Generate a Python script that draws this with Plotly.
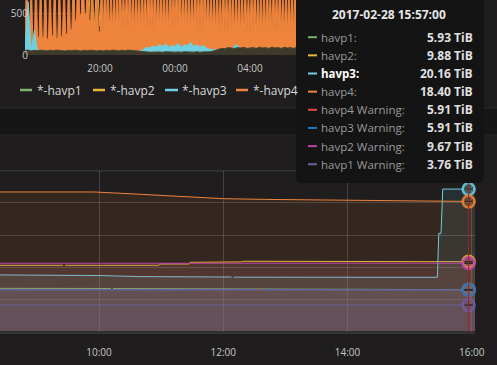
import plotly.graph_objects as go
import pandas as pd

W, H = 497, 365
def fx(x): return x / W
def fy(y): return 1 - y / H

# ---------------- top panel data, 2017-02-27 16:00 -> 2017-02-28 16:00
top_start = '2017-02-27 16:00'
# havp4: 5-minute samples (one row = one hour)
havp4_top = [180,1000,200,220,950,190,210,1050,230,200,980,210,
             220,1020,200,190,960,240,230,1080,200,210,990,220,
             240,1000,260,250,1100,300,320,1050,380,450,1200,480,
             500,1150,520,480,900,430,400,1000,380,350,950,300,
             260,980,250,900,280,1050,240,820,300,960,270,1000,
             280,1040,260,880,290,950,250,1100,270,900,260,980,
             300,960,280,1020,310,860,290,1080,300,940,280,1000,
             290,900,300,1060,280,980,310,840,290,1020,300,920,
             310,1000,290,1100,300,900,320,1040,290,960,300,860,
             290,1060,280,920,300,1000,270,1100,290,880,280,980,
             260,900,250,980,240,820,260,1040,250,900,240,960,
             250,980,240,860,260,1020,230,900,250,960,240,840,
             240,920,250,1040,230,860,260,980,240,900,250,1080,
             250,860,240,980,260,900,230,1020,250,840,240,960,
             240,980,250,900,230,1040,260,860,240,980,250,920,
             250,920,240,1020,260,860,230,980,250,900,240,1040,
             230,980,250,860,240,1020,260,920,230,980,250,860,
             240,1040,230,900,250,980,240,860,260,1020,230,960,
             250,860,240,980,230,920,250,1040,240,860,260,980,
             240,980,260,900,240,1020,230,860,250,980,240,920,
             230,920,250,980,260,860,240,1040,230,920,250,980,
             250,1020,240,860,230,980,250,920,240,1040,230,860,
             240,860,230,980,250,920,240,1020,260,860,240,980,
             230,980,250,920,240,860,230,1040,250,980,240,920]
# havp2 / havp3 / havp1: 10-minute samples
havp2_top = [120,150,130,160,120,140,130,150,120,160,130,140,
             140,160,150,170,140,160,150,170,160,900,180,950,
             350,1000,380,420,300,400,330,380,280,350,260,300,
             200,240,180,220,170,210,160,200,170,190,160,200,
             150,170,140,160,150,170,140,160,150,170,140,160,
             160,180,150,170,160,180,150,170,160,180,150,170,
             170,190,160,180,170,190,160,180,170,190,160,180,
             160,180,170,190,160,180,170,190,160,180,170,190,
             170,190,160,180,170,190,160,180,170,190,160,180,
             160,180,170,190,160,180,170,190,160,180,170,190,
             170,190,160,180,170,190,160,180,170,190,160,180,
             160,180,170,190,160,180,170,190,160,180,170,190]
havp3_top = [60,650,50,300,40,60,40,50,40,50,40,50,
             40,50,40,50,40,50,40,50,40,50,40,50,
             40,50,40,50,40,45,40,50,45,50,40,50,
             40,50,70,95,85,110,95,125,105,135,95,115,
             105,140,95,125,115,150,105,125,95,115,85,70,
             60,70,50,60,50,70,60,110,120,80,60,70,
             60,70,60,80,60,70,60,80,60,70,60,80,
             60,70,60,80,60,70,60,80,60,70,60,80,
             60,70,60,80,60,70,60,80,60,70,60,80,
             60,70,60,80,60,70,60,80,60,70,60,80,
             60,70,60,80,60,70,60,80,60,70,60,80,
             60,70,60,80,60,70,60,80,60,70,60,80]
havp1_top = [55,60,50,58,52,60,55,50,58,52,60,55,
             55,50,58,52,60,55,50,58,52,60,55,50,
             55,50,58,52,60,55,50,58,52,60,55,50,
             50,45,40,38,35,40,36,38,34,40,36,38,
             35,38,34,40,36,38,35,40,34,38,36,40,
             45,60,70,80,75,90,85,80,90,85,95,80,
             85,90,80,95,85,90,80,95,85,90,80,95,
             85,90,80,95,85,90,80,95,85,90,80,95,
             85,90,80,95,85,90,80,95,85,90,80,95,
             85,90,80,95,85,90,80,95,85,90,80,95,
             85,90,80,95,85,90,80,95,85,90,80,95,
             85,90,80,95,85,90,80,95,85,90,80,95]
top_names = ['*-havp1', '*-havp2', '*-havp3', '*-havp4']
top_ticks = ['2017-02-27 20:00', '2017-02-28 00:00', '2017-02-28 04:00']

# ---------------- bottom panel data (TiB), 2017-02-28 ; None = missing sample
D = '2017-02-28 '
havp1_t = ['08:20', '10:11:30', '10:12:30', '10:13:30', '12:30', '15:57', '16:05']
havp1_v = [6.12, 6.10, None, 6.09, 6.02, 5.93, 5.93]
havp2_t = ['08:20', '09:25:10', '09:26:10', '09:27:10', '10:58', '10:59', '11:27', '11:28',
           '11:44', '11:45', '12:18', '12:19', '14:00', '15:57', '16:05']
havp2_v = [9.38, 9.38, None, 9.38, 9.38, 9.56, 9.56, 9.80, 9.80, 9.86, 9.86, 9.95, 9.92, 9.88, 9.88]
havp3_t = ['08:20', '10:00', '10:40', '12:08', '12:09', '12:10', '15:26:50', '15:28:10',
           '15:30:20', '15:32', '16:05']
havp3_v = [8.02, 7.93, 7.78, 7.72, None, 7.70, 7.68, 13.9, 13.9, 20.16, 20.16]
havp4_t = ['08:20', '09:55', '10:30', '11:15', '12:00', '12:40', '14:00', '15:57', '16:05']
havp4_v = [19.75, 19.75, 19.50, 19.10, 18.80, 18.70, 18.62, 18.40, 18.40]
warn4_t = ['08:20', '16:05']
warn4_v = [5.91, 5.91]
warn3_t = ['08:20', '12:32:20', '12:33:20', '12:34:20', '16:05']
warn3_v = [5.91, 5.91, None, 5.91, 5.91]
warn2_t = ['08:20', '16:05']
warn2_v = [9.67, 9.67]
warn1_t = ['08:20', '16:05']
warn1_v = [3.76, 3.76]

series_names = ['havp1', 'havp2', 'havp3', 'havp4',
                'havp4 Warning', 'havp3 Warning', 'havp2 Warning', 'havp1 Warning']
series_colors = ['#7EB26D', '#EAB839', '#6ED0E0', '#EF843C',
                 '#E24D42', '#1F78C1', '#BA43A9', '#705DA0']
series_data = [(havp1_t, havp1_v), (havp2_t, havp2_v), (havp3_t, havp3_v), (havp4_t, havp4_v),
               (warn4_t, warn4_v), (warn3_t, warn3_v), (warn2_t, warn2_v), (warn1_t, warn1_v)]
bottom_ticks = ['2017-02-28 10:00', '2017-02-28 12:00', '2017-02-28 14:00', '2017-02-28 16:00']

hover_time = '2017-02-28 15:57:00'
hover_vals = [5.93, 9.88, 20.16, 18.40, 5.91, 5.91, 9.67, 3.76]
hover_idx = 2  # hovered series (havp3)

FONT = 'Open Sans'
PANEL = '#1f1d1d'
TXT = '#c8c8c8'

def rgba(hexc, a):
    h = hexc.lstrip('#')
    return 'rgba(%d,%d,%d,%.2f)' % (int(h[0:2], 16), int(h[2:4], 16), int(h[4:6], 16), a)

fig = go.Figure()

# ---- top panel traces
x5 = pd.date_range(top_start, periods=len(havp4_top), freq='5min')
x10 = pd.date_range(top_start, periods=len(havp2_top), freq='10min')
fig.add_trace(go.Scatter(x=x10, y=havp2_top, mode='lines', name=top_names[1],
                         line=dict(color=series_colors[1], width=1), xaxis='x', yaxis='y'))
fig.add_trace(go.Scatter(x=x5, y=havp4_top, mode='lines', name=top_names[3], fill='tozeroy',
                         fillcolor=rgba(series_colors[3], 1), line=dict(color=series_colors[3], width=1),
                         xaxis='x', yaxis='y'))
fig.add_trace(go.Scatter(x=x10, y=havp3_top, mode='lines', name=top_names[2], fill='tozeroy',
                         fillcolor=rgba(series_colors[2], 1), line=dict(color=series_colors[2], width=1),
                         xaxis='x', yaxis='y'))
fig.add_trace(go.Scatter(x=x10, y=havp1_top, mode='lines', name=top_names[0], fill='tozeroy',
                         fillcolor='#3d3a2b', line=dict(color='#47452f', width=1),
                         xaxis='x', yaxis='y'))

# ---- bottom panel traces
for name, col, (t, v) in zip(series_names, series_colors, series_data):
    fig.add_trace(go.Scatter(x=[D + s for s in t], y=v, mode='lines', name=name,
                             fill='tozeroy', fillcolor=rgba(col, 0.1), connectgaps=False,
                             line=dict(color=col, width=1), xaxis='x2', yaxis='y2'))

fig.add_trace(go.Scatter(x=[hover_time] * len(hover_vals), y=hover_vals, mode='markers',
                         marker=dict(size=12, color=[rgba(c, 0.3) for c in series_colors],
                                     line=dict(color=[rgba(c, 0.85) for c in series_colors], width=2.5)),
                         cliponaxis=False, xaxis='x2', yaxis='y2'))
fig.add_trace(go.Scatter(x=[hover_time] * len(hover_vals), y=hover_vals, mode='markers',
                         marker=dict(symbol='line-ew', size=6, line=dict(color='#2a2a2a', width=1.5)),
                         cliponaxis=False, xaxis='x2', yaxis='y2'))

TIB5TB = 5e12 / 2 ** 40
PXPERTIB = 7.07
Y0 = 331.6
YTOP = 5 * TIB5TB
grid = 'rgba(255,255,255,0.16)'
fig.update_layout(
    width=W, height=H, margin=dict(l=0, r=0, t=0, b=0, autoexpand=False),
    paper_bgcolor=PANEL, plot_bgcolor='rgba(0,0,0,0)', showlegend=False,
    font=dict(family=FONT, color=TXT, size=10),
    xaxis=dict(domain=[fx(25), fx(475)], anchor='y', type='date', automargin=False,
               range=['2017-02-27 16:00', '2017-02-28 16:00'],
               tickvals=top_ticks, tickformat='%H:%M',
               showgrid=True, gridcolor=grid, zeroline=False, showline=False, ticks='',
               tickfont=dict(size=10, color=TXT), ticklabelstandoff=6),
    yaxis=dict(domain=[fy(55), 1], anchor='x', range=[0, 670], tickvals=[0, 500], automargin=False,
               showgrid=True, gridcolor=grid, zeroline=False, showline=False, ticks='',
               tickfont=dict(size=10, color=TXT), ticklabelstandoff=-4),
    xaxis2=dict(domain=[0, fx(475)], anchor='y2', type='date', automargin=False,
                range=['2017-02-28 08:24:20', '2017-02-28 16:03:10'],
                tickvals=bottom_ticks, tickformat='%H:%M',
                showgrid=True, gridcolor=grid, zeroline=False, showline=True,
                linecolor='#333333', linewidth=2, ticks='',
                tickfont=dict(size=10, color=TXT), ticklabelstandoff=10),
    yaxis2=dict(domain=[fy(Y0), fy(Y0 - YTOP * PXPERTIB)], anchor='x2', range=[0, YTOP],
                tick0=0, dtick=TIB5TB, showticklabels=False, automargin=False,
                showgrid=True, gridcolor=grid, zeroline=False, showline=False, ticks=''),
)

shapes = []
# gap between panels
shapes.append(dict(type='rect', xref='paper', yref='paper', x0=0, x1=1, y0=fy(135), y1=fy(108),
                   fillcolor='#161616', line=dict(width=0), layer='below'))
shapes.append(dict(type='line', xref='paper', yref='paper', x0=0, x1=1, y0=fy(108), y1=fy(108),
                   line=dict(color='#2a2a2a', width=1), layer='below'))
shapes.append(dict(type='line', xref='paper', yref='paper', x0=0, x1=1, y0=fy(135), y1=fy(135),
                   line=dict(color='#1f282c', width=1), layer='below'))
# top border of the bottom plot area (grid frame)
shapes.append(dict(type='line', xref='x2 domain', yref='y2 domain', x0=0, x1=1, y0=1, y1=1,
                   line=dict(color=grid, width=1), layer='below'))
# crosshair
shapes.append(dict(type='line', xref='x2', yref='y2 domain', x0=hover_time, x1=hover_time,
                   y0=0, y1=1, line=dict(color='#b01c1c', width=1), layer='above'))
# legend swatches (top panel)
leg_sw = [(20, 32), (93, 105), (165, 178), (236, 248)]
leg_tx = [37, 110, 182, 253]
for (a, b), col in zip(leg_sw, series_colors[:4]):
    shapes.append(dict(type='line', xref='paper', yref='paper', x0=fx(a), x1=fx(b), y0=fy(90), y1=fy(90),
                       line=dict(color=col, width=2.5), layer='above'))
# tooltip box
x0, x1, y0, y1, r = 296, 484, -10, 183, 6
pts = [('M', x0 + r, y0), ('L', x1 - r, y0), ('Q', x1, y0, x1, y0 + r), ('L', x1, y1 - r),
       ('Q', x1, y1, x1 - r, y1), ('L', x0 + r, y1), ('Q', x0, y1, x0, y1 - r), ('L', x0, y0 + r),
       ('Q', x0, y0, x0 + r, y0)]
path = ''
for p in pts:
    cmd = p[0]
    coords = p[1:]
    s = []
    for i in range(0, len(coords), 2):
        s.append('%.5f,%.5f' % (fx(coords[i]), fy(coords[i + 1])))
    path += cmd + ' ' + ' '.join(s) + ' '
path += 'Z'
shapes.append(dict(type='path', xref='paper', yref='paper', path=path,
                   fillcolor='#141414', line=dict(width=0), layer='above'))
row_y = [37.2 + 18.15 * i for i in range(8)]
for yy, col in zip(row_y, series_colors):
    shapes.append(dict(type='line', xref='paper', yref='paper', x0=fx(308), x1=fx(317), y0=fy(yy), y1=fy(yy),
                       line=dict(color=col, width=2), layer='above'))
fig.update_layout(shapes=shapes)

ann = []
for xt, nm in zip(leg_tx, top_names):
    ann.append(dict(x=fx(xt), y=fy(90), xref='paper', yref='paper', text=nm, showarrow=False,
                    xanchor='left', yanchor='middle', borderpad=0, borderwidth=0,
                    font=dict(family=FONT, size=12, color='#d8d9da')))
ann.append(dict(x=fx(389), y=fy(15), xref='paper', yref='paper', text='<b>%s</b>' % hover_time,
                showarrow=False, xanchor='center', yanchor='middle', borderpad=0, borderwidth=0,
                font=dict(family=FONT, size=12, color='#e6e6e6')))
for i, (yy, nm, v) in enumerate(zip(row_y, series_names, hover_vals)):
    lab = nm + ':'
    if i == hover_idx:
        lab = '<b>%s</b>' % lab
        lc = '#ffffff'
    else:
        lc = '#9a9a9a'
    ann.append(dict(x=fx(321), y=fy(yy), xref='paper', yref='paper', text=lab, showarrow=False,
                    xanchor='left', yanchor='middle', borderpad=0, borderwidth=0,
                    font=dict(family=FONT, size=11.5, color=lc)))
    ann.append(dict(x=fx(473), y=fy(yy), xref='paper', yref='paper', text='<b>%.2f TiB</b>' % v,
                    showarrow=False, xanchor='right', yanchor='middle', borderpad=0, borderwidth=0,
                    font=dict(family=FONT, size=12, color='#e0e0e0')))
fig.update_layout(annotations=ann)

fig.write_html('out.html')
